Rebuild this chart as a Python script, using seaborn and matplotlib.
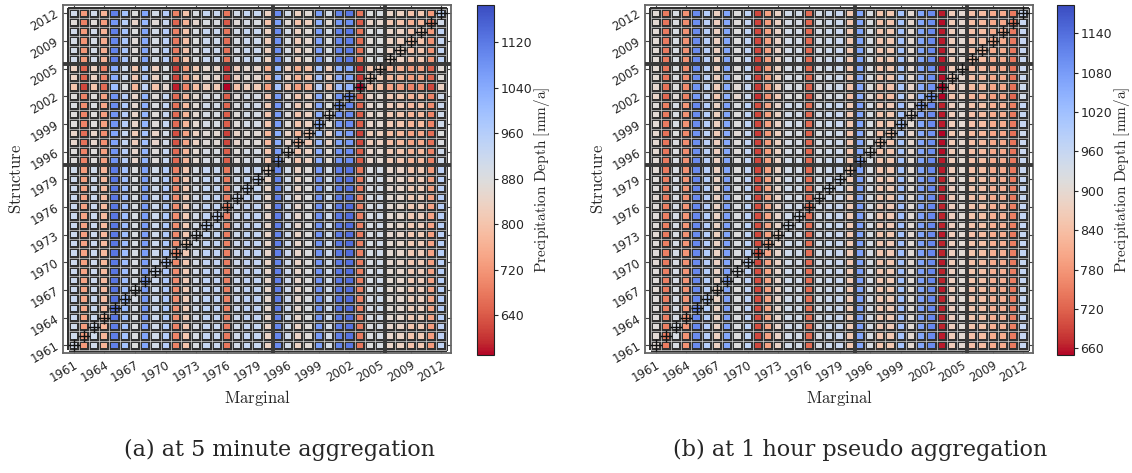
import numpy as np
import pandas as pd
import seaborn as sns
import matplotlib.pyplot as plt

# ---------------- data ----------------
years = list(range(1961, 1981)) + list(range(1995, 2006)) + list(range(2007, 2013))

# panel (a): 5 minute aggregation -- value per marginal year (column)
marg_5min = [905, 725, 905, 765, 1110, 990, 878, 1050, 903, 960,
             690, 800, 890, 927, 921, 675, 903, 930, 925, 835,
             1094, 903, 835, 866, 1063, 900, 1106, 1124, 675, 878, 890,
             845, 835, 798, 810, 724, 940]
# shift per structure year (row)
struct_5min = [0, 5, 5, 15, 20, 20, 15, 15, 15, 10,
               15, 15, 10, 15, 15, 15, 15, 10, 10, 5,
               -30, -30, -55, -60, -30, -30, -20, -30, -105, -70, -75,
               0, -5, -10, 0, -35, 0]

# panel (b): 1 hour pseudo aggregation
marg_1h = [906, 746, 927, 773, 1103, 986, 879, 1066, 916, 970,
           693, 794, 885, 938, 938, 730, 932, 948, 954, 858,
           1066, 927, 853, 858, 1012, 900, 1066, 1103, 661, 868, 900,
           845, 837, 810, 810, 746, 959]
struct_1h = [0, 0, 5, 5, 5, 5, 0, 5, 5, 0,
             5, 5, 0, 5, 5, 5, 0, 5, 5, 0,
             0, -5, -5, -10, 0, 0, 5, -20, -10, -5, -5,
             0, 0, 0, 0, -5, 0]

limits_5min = (570, 1186)
limits_1h = (650, 1183)
ticks_5min = [640, 720, 800, 880, 960, 1040, 1120]
ticks_1h = [660, 720, 780, 840, 900, 960, 1020, 1080, 1140]
captions = ["(a) at 5 minute aggregation", "(b) at 1 hour pseudo aggregation"]

# ---------------- style ----------------
sns.set_style("white")
plt.rcParams["font.family"] = ["DejaVu Sans"]
plt.rcParams["mathtext.fontset"] = "cm"

W, H = 1132, 473
fig = plt.figure(figsize=(W / 100, H / 100), dpi=100)


def fx(x):
    return x / W


def fy(y):
    return 1 - y / H


def panel(left_px, cbar_px, marg, struct, lims, ticks, caption, cap_x):
    ax = fig.add_axes([fx(left_px), fy(353), fx(388), 348 / H])
    cax = fig.add_axes([fx(cbar_px), fy(355), fx(17), 350 / H])
    mat = np.add.outer(np.array(struct, float), np.array(marg, float))
    df = pd.DataFrame(mat, index=years, columns=years)
    n = len(years)
    sns.heatmap(df, ax=ax, cbar_ax=cax, cmap="coolwarm_r",
                vmin=lims[0], vmax=lims[1],
                linewidths=1.5, linecolor="#303030",
                cbar_kws={"ticks": ticks})
    # light gaps between the framed cells
    ax.hlines(np.arange(n + 1), 0, n, colors="#e8e8e8", lw=0.45, zorder=3)
    ax.vlines(np.arange(n + 1), 0, n, colors="#e8e8e8", lw=0.45, zorder=3)
    # group separators
    for b in (20, 31):
        ax.axvline(b, color="#3a3a3a", lw=2.8, zorder=4)
        ax.axhline(b, color="#3a3a3a", lw=2.8, zorder=4)
    # diagonal markers
    idx = np.arange(n) + 0.5
    ax.plot(idx, idx, ls="none", marker="+", ms=8, mew=1.0, color="#111111", zorder=5)

    ax.set_xlim(-0.55, n + 0.45)
    ax.set_ylim(-0.35, n + 0.4)
    tpos = np.arange(0, n, 3) + 0.5
    tlab = [str(years[i]) for i in range(0, n, 3)]
    ax.set_xticks(tpos)
    ax.set_xticklabels(tlab, rotation=30, ha="right", rotation_mode="anchor", fontsize=8.5)
    ax.set_yticks(tpos)
    ax.set_yticklabels(tlab, rotation=30, ha="right", rotation_mode="anchor", fontsize=8.5)
    ax.tick_params(direction="in", length=4, width=0.8, color="#444444",
                   top=True, right=True, bottom=True, left=True, pad=4)
    for s in ax.spines.values():
        s.set_visible(True)
        s.set_color("#666666")
        s.set_linewidth(1.3)
    ax.set_xlabel(r"$\mathrm{Marginal}$", fontsize=12, labelpad=2)
    ax.set_ylabel(r"$\mathrm{Structure}$", fontsize=12, labelpad=2)

    cb = ax.collections[0].colorbar
    cb.outline.set_linewidth(0.8)
    cb.outline.set_edgecolor("#222222")
    cax.tick_params(labelsize=9, length=3, pad=1.5)
    cb.set_label(r"$\mathrm{Precipitation\ Depth\ [mm/a]}$", fontsize=11, labelpad=0)

    fig.text(fx(cap_x), fy(450), caption, ha="center", va="center",
             fontsize=16, family="DejaVu Serif")


panel(63, 477, marg_5min, struct_5min, limits_5min, ticks_5min, captions[0], 280)
panel(645, 1057, marg_1h, struct_1h, limits_1h, ticks_1h, captions[1], 860)

fig.savefig("out.png", dpi=100)
